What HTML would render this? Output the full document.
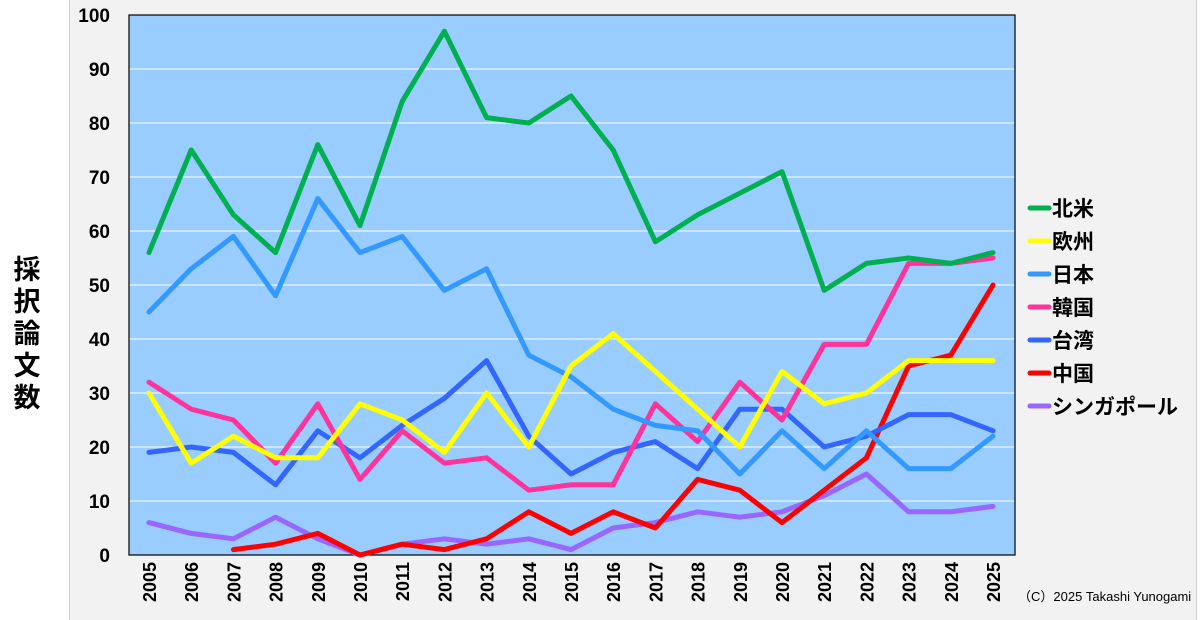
<!DOCTYPE html>
<html><head><meta charset="utf-8"><style>
body{margin:0;width:1200px;height:620px;overflow:hidden;background:#fff;font-family:"Liberation Sans","Noto Sans CJK JP",sans-serif}
</style></head><body>
<svg width="1200" height="620" xmlns="http://www.w3.org/2000/svg" style="position:absolute;left:0;top:0">
<rect x="0" y="0" width="1200" height="620" fill="#fff"/>
<rect x="69" y="0" width="1127" height="620" fill="#f2f2f2"/>
<line x1="69.5" y1="0" x2="69.5" y2="620" stroke="#d0d0d0"/>
<line x1="1196.5" y1="0" x2="1196.5" y2="620" stroke="#d0d0d0"/>
<rect x="129" y="15" width="886" height="540" fill="#99ccff"/>
<g stroke="#fff" stroke-width="1">
<line x1="129" x2="1015" y1="69" y2="69"/><line x1="129" x2="1015" y1="123" y2="123"/>
<line x1="129" x2="1015" y1="177" y2="177"/><line x1="129" x2="1015" y1="231" y2="231"/>
<line x1="129" x2="1015" y1="285" y2="285"/><line x1="129" x2="1015" y1="339" y2="339"/>
<line x1="129" x2="1015" y1="393" y2="393"/><line x1="129" x2="1015" y1="447" y2="447"/>
<line x1="129" x2="1015" y1="501" y2="501"/>
</g>
<rect x="129" y="15" width="886" height="540" fill="none" stroke="#000" stroke-width="1.2"/>
<g transform="translate(149,555) scale(42.2,-5.4)" fill="none" stroke-width="5" stroke-linejoin="round" stroke-linecap="round">
<polyline vector-effect="non-scaling-stroke" stroke="#9966ff" points="0,6 1,4 2,3 3,7 4,3 5,0 6,2 7,3 8,2 9,3 10,1 11,5 12,6 13,8 14,7 15,8 16,11 17,15 18,8 19,8 20,9"/>
<polyline vector-effect="non-scaling-stroke" stroke="#ff0000" points="2,1 3,2 4,4 5,0 6,2 7,1 8,3 9,8 10,4 11,8 12,5 13,14 14,12 15,6 16,12 17,18 18,35 19,37 20,50"/>
<polyline vector-effect="non-scaling-stroke" stroke="#3366ff" points="0,19 1,20 2,19 3,13 4,23 5,18 6,24 7,29 8,36 9,22 10,15 11,19 12,21 13,16 14,27 15,27 16,20 17,22 18,26 19,26 20,23"/>
<polyline vector-effect="non-scaling-stroke" stroke="#ff3399" points="0,32 1,27 2,25 3,17 4,28 5,14 6,23 7,17 8,18 9,12 10,13 11,13 12,28 13,21 14,32 15,25 16,39 17,39 18,54 19,54 20,55"/>
<polyline vector-effect="non-scaling-stroke" stroke="#3399ff" points="0,45 1,53 2,59 3,48 4,66 5,56 6,59 7,49 8,53 9,37 10,33 11,27 12,24 13,23 14,15 15,23 16,16 17,23 18,16 19,16 20,22"/>
<polyline vector-effect="non-scaling-stroke" stroke="#ffff00" points="0,30 1,17 2,22 3,18 4,18 5,28 6,25 7,19 8,30 9,20 10,35 11,41 12,34 13,27 14,20 15,34 16,28 17,30 18,36 19,36 20,36"/>
<polyline vector-effect="non-scaling-stroke" stroke="#00b050" points="0,56 1,75 2,63 3,56 4,76 5,61 6,84 7,97 8,81 9,80 10,85 11,75 12,58 13,63 14,67 15,71 16,49 17,54 18,55 19,54 20,56"/>
</g>
<g font-size="19" font-weight="bold" text-anchor="end" fill="#000">
<text x="110" y="22">100</text><text x="110" y="76">90</text><text x="110" y="130">80</text>
<text x="110" y="184">70</text><text x="110" y="238">60</text><text x="110" y="292">50</text>
<text x="110" y="346">40</text><text x="110" y="400">30</text><text x="110" y="454">20</text>
<text x="110" y="508">10</text><text x="110" y="562">0</text>
</g>
<g font-size="18" font-weight="bold" text-anchor="end" fill="#000">
<text transform="translate(156,562) rotate(-90)">2005</text>
<text transform="translate(198.2,562) rotate(-90)">2006</text>
<text transform="translate(240.4,562) rotate(-90)">2007</text>
<text transform="translate(282.6,562) rotate(-90)">2008</text>
<text transform="translate(324.8,562) rotate(-90)">2009</text>
<text transform="translate(367,562) rotate(-90)">2010</text>
<text transform="translate(409.2,562) rotate(-90)">2011</text>
<text transform="translate(451.4,562) rotate(-90)">2012</text>
<text transform="translate(493.6,562) rotate(-90)">2013</text>
<text transform="translate(535.8,562) rotate(-90)">2014</text>
<text transform="translate(578,562) rotate(-90)">2015</text>
<text transform="translate(620.2,562) rotate(-90)">2016</text>
<text transform="translate(662.4,562) rotate(-90)">2017</text>
<text transform="translate(704.6,562) rotate(-90)">2018</text>
<text transform="translate(746.8,562) rotate(-90)">2019</text>
<text transform="translate(789,562) rotate(-90)">2020</text>
<text transform="translate(831.2,562) rotate(-90)">2021</text>
<text transform="translate(873.4,562) rotate(-90)">2022</text>
<text transform="translate(915.6,562) rotate(-90)">2023</text>
<text transform="translate(957.8,562) rotate(-90)">2024</text>
<text transform="translate(1000,562) rotate(-90)">2025</text>
</g>
<g font-size="27" font-weight="bold" text-anchor="middle" fill="#000">
<text x="27" y="279">採</text><text x="27" y="311">択</text><text x="27" y="343">論</text>
<text x="27" y="375">文</text><text x="27" y="407">数</text>
</g>
<g stroke-width="5" stroke-linecap="round">
<line x1="1030" x2="1049" y1="208" y2="208" stroke="#00b050"/>
<line x1="1030" x2="1049" y1="241" y2="241" stroke="#ffff00"/>
<line x1="1030" x2="1049" y1="274" y2="274" stroke="#3399ff"/>
<line x1="1030" x2="1049" y1="307" y2="307" stroke="#ff3399"/>
<line x1="1030" x2="1049" y1="340" y2="340" stroke="#3366ff"/>
<line x1="1030" x2="1049" y1="373" y2="373" stroke="#ff0000"/>
<line x1="1030" x2="1049" y1="406" y2="406" stroke="#9966ff"/>
</g>
<g font-size="21" font-weight="bold" fill="#000">
<text x="1052" y="216">北米</text><text x="1052" y="249">欧州</text><text x="1052" y="282">日本</text>
<text x="1052" y="315">韓国</text><text x="1052" y="348">台湾</text><text x="1052" y="381">中国</text>
<text x="1052" y="414">シンガポール</text>
</g>
<text x="1018" y="601" font-size="13" fill="#000">（C）2025 Takashi Yunogami</text>
</svg>
</body></html>
